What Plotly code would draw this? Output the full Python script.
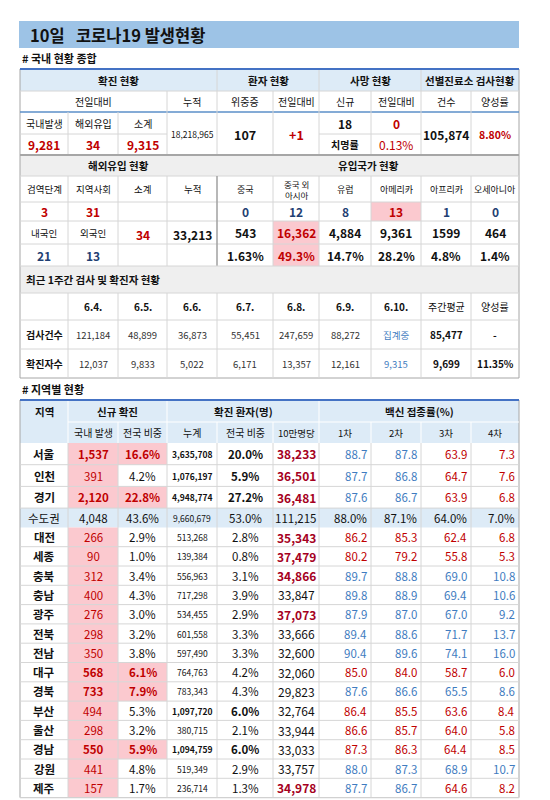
import plotly.graph_objects as go

# ---- data ----
top_head = ["확진 현황", "환자 현황", "사망 현황", "선별진료소 검사현황"]
top_sub = ["전일대비", "누적", "위중증", "전일대비", "신규", "전일대비", "건수", "양성률"]
conf_labels = ["국내발생", "해외유입", "소계"]
conf_values = ["9,281", "34", "9,315"]
cumulative = "18,218,965"
critical, critical_diff = "107", "+1"
deaths_new, deaths_diff, fatality = "18", "0", "0.13%"
test_count, test_pos = "105,874", "8.80%"

imp_labels = ["검역단계", "지역사회", "소계", "누적"]
country_labels = ["중국", "중국 외<br>아시아", "유럽", "아메리카", "아프리카", "오세아니아"]
imp_today = ["3", "31"]
imp_sub, imp_cum = "34", "33,213"
nat_labels = ["내국인", "외국인"]
nat_values = ["21", "13"]
country_today = ["0", "12", "8", "13", "1", "0"]
country_cum = ["543", "16,362", "4,884", "9,361", "1599", "464"]
country_pct = ["1.63%", "49.3%", "14.7%", "28.2%", "4.8%", "1.4%"]

week_days = ["6.4.", "6.5.", "6.6.", "6.7.", "6.8.", "6.9.", "6.10."]
week_tests = ["121,184", "48,899", "36,873", "55,451", "247,659", "88,272", "집계중"]
week_cases = ["12,037", "9,833", "5,022", "6,171", "13,357", "12,161", "9,315"]
week_avg = ["85,477", "9,699"]
week_rate = ["-", "11.35%"]

regions = ["서울", "인천", "경기", "수도권", "대전", "세종", "충북", "충남", "광주",
           "전북", "전남", "대구", "경북", "부산", "울산", "경남", "강원", "제주"]
new_cases = ["1,537", "391", "2,120", "4,048", "266", "90", "312", "400", "276",
             "298", "350", "568", "733", "494", "298", "550", "441", "157"]
new_share = ["16.6%", "4.2%", "22.8%", "43.6%", "2.9%", "1.0%", "3.4%", "4.3%", "3.0%",
             "3.2%", "3.8%", "6.1%", "7.9%", "5.3%", "3.2%", "5.9%", "4.8%", "1.7%"]
cum_cases = ["3,635,708", "1,076,197", "4,948,774", "9,660,679", "513,268", "139,384",
             "556,963", "717,298", "534,455", "601,558", "597,490", "764,763", "783,343",
             "1,097,720", "380,715", "1,094,759", "519,349", "236,714"]
cum_share = ["20.0%", "5.9%", "27.2%", "53.0%", "2.8%", "0.8%", "3.1%", "3.9%", "2.9%",
             "3.3%", "3.3%", "4.2%", "4.3%", "6.0%", "2.1%", "6.0%", "2.9%", "1.3%"]
per100k = ["38,233", "36,501", "36,481", "111,215", "35,343", "37,479", "34,866", "33,847",
           "37,073", "33,666", "32,600", "32,060", "29,823", "32,764", "33,944", "33,033",
           "33,757", "34,978"]
vac1 = ["88.7", "87.7", "87.6", "88.0%", "86.2", "80.2", "89.7", "89.8", "87.9", "89.4",
        "90.4", "85.0", "87.6", "86.4", "86.6", "87.3", "88.0", "87.7"]
vac2 = ["87.8", "86.8", "86.7", "87.1%", "85.3", "79.2", "88.8", "88.9", "87.0", "88.6",
        "89.6", "84.0", "86.6", "85.5", "85.7", "86.3", "87.3", "86.7"]
vac3 = ["63.9", "64.7", "63.9", "64.0%", "62.4", "55.8", "69.0", "69.4", "67.0", "71.7",
        "74.1", "58.7", "65.5", "63.6", "64.0", "64.4", "68.9", "64.6"]
vac4 = ["7.3", "7.6", "6.8", "7.0%", "6.8", "5.3", "10.8", "10.6", "9.2", "13.7",
        "16.0", "6.0", "8.6", "8.4", "5.8", "8.5", "10.7", "8.2"]

# ---- styles ----
RED, DRED, BLUE, NAVY, BLK = "#c00000", "#a50021", "#3f7cc0", "#1f3f73", "#111111"
PINK, LBLUE, GRAY, GRID = "#fbc9cf", "#ddebf7", "#efefef", "#d6d6d6"
FONT = "Noto Sans CJK KR"
hot = {"서울", "경기", "대구", "경북", "경남"}
big = {"서울", "인천", "경기", "부산", "경남"}
high100k = {"서울", "인천", "경기", "대전", "세종", "충북", "광주", "제주"}
vac_blue12 = {"서울", "인천", "경기", "충북", "충남", "광주", "전북", "전남", "경북", "강원", "제주"}
vac_blue34 = {"충북", "충남", "광주", "전북", "전남", "경북", "강원"}

X = [12, 60, 110, 159, 209, 265, 311, 363, 413, 463, 511]
shapes, ann = [], []


def rect(x0, y0, x1, y1, fill, line=None, w=0):
    shapes.append(dict(type="rect", x0=x0, x1=x1, y0=y0, y1=y1, fillcolor=fill,
                       line=dict(color=line or fill, width=w), layer="below"))


def line(x0, y0, x1, y1, color=GRID, w=1):
    shapes.append(dict(type="line", x0=x0, x1=x1, y0=y0, y1=y1, line=dict(color=color, width=w)))


def t(x, y, s, size=11, color=BLK, bold=False, align="center"):
    ann.append(dict(x=x, y=y, text=f"<b>{s}</b>" if bold else s, showarrow=False,
                    xanchor=align, yanchor="middle",
                    font=dict(size=size, color=color, family=FONT)))


def cx(i, j=None):
    return (X[i] + X[(j if j is not None else i + 1)]) / 2


# title
rect(11, 13, 511, 40, "#9dc3e6")
t(20, 26.5, "10일   코로나19 발생현황", 16.5, BLK, True, "left")
t(12, 50, "# 국내 현황 종합", 11, BLK, True, "left")

# top table
rect(12, 62, 511, 83, LBLUE)
for a, b, s in [(0, 4, top_head[0]), (4, 6, top_head[1]), (6, 8, top_head[2]), (8, 10, top_head[3])]:
    t(cx(a, b), 72.5, s, 10.5, BLK, True)
subs = [(0, 3), (3, 4), (4, 5), (5, 6), (6, 7), (7, 8), (8, 9), (9, 10)]
for (a, b), s in zip(subs, top_sub):
    t(cx(a, b), 93.5, s, 10)
for i in range(3):
    t(cx(i), 115, conf_labels[i], 10)
    t(cx(i), 136.5, conf_values[i], 12, RED, True)
t(cx(3), 126, cumulative, 8.5)
t(cx(4), 126, critical, 12.5, BLK, True)
t(cx(5), 126, critical_diff, 12.5, RED, True)
t(cx(6), 115, deaths_new, 12, BLK, True)
t(cx(7), 115, deaths_diff, 12, RED, True)
t(cx(6), 136.5, "치명률", 10, BLK, True)
t(cx(7), 136.5, fatality, 12, RED)
t(cx(8), 126, test_count, 12, BLK, True)
t(cx(9), 126, test_pos, 10.5, RED, True)
line(12, 83, 511, 83)
line(12, 126, 159, 126)
line(311, 126, 413, 126)
line(12, 104, 511, 104, "#5b8fc9", 1.5)
for i in [4, 6, 8]:
    line(X[i], 62, X[i], 147)
for i in [3, 5, 7, 9]:
    line(X[i], 83, X[i], 147)
for i in [1, 2]:
    line(X[i], 104, X[i], 147)

# import section
rect(12, 147, 511, 168, GRAY)
t(cx(0, 4), 157.5, "해외유입 현황", 10.5, BLK, True)
t(cx(4, 10), 157.5, "유입국가 현황", 10.5, BLK, True)
for i, s in enumerate(imp_labels):
    t(cx(i), 181, s, 9.5)
for i, s in enumerate(country_labels):
    t(cx(4 + i), 181, s, 8.5 if i == 1 else 9)
for i in range(2):
    t(cx(i), 203.5, imp_today[i], 12, RED, True)
    t(cx(i), 224.5, nat_labels[i], 9.5)
    t(cx(i), 247, nat_values[i], 12, NAVY, True)
t(cx(2), 226, imp_sub, 12, RED, True)
t(cx(3), 226, imp_cum, 12, BLK, True)
rect(X[7], 194, X[8], 213, PINK)
rect(X[5], 213, X[6], 258, PINK)
for i in range(6):
    t(cx(4 + i), 203.5, country_today[i], 12, RED if i == 3 else NAVY, True)
    t(cx(4 + i), 224.5, country_cum[i], 12, RED if i == 1 else BLK, True)
    t(cx(4 + i), 247, country_pct[i], 12, RED if i == 1 else BLK, True)
for y in [168, 194, 213, 236]:
    line(12, y, 511, y)
for i in range(1, 10):
    line(X[i], 168, X[i], 258, "#a0a0a0" if i == 4 else GRID, 1.5 if i == 4 else 1)
line(12, 147, 511, 147, "#a6a6a6", 2)

# weekly
rect(12, 258, 511, 285, GRAY)
t(16, 271.5, "최근 1주간 검사 및 확진자 현황", 10.5, BLK, True, "left")
for i, d in enumerate(week_days):
    t(cx(i + 1), 298.5, d, 10, BLK, True)
    t(cx(i + 1), 326.5, week_tests[i], 9.5, BLUE if i == 6 else "#333333")
    t(cx(i + 1), 355.5, week_cases[i], 9.5, BLUE if i == 6 else "#333333")
t(cx(8), 298.5, "주간평균", 10)
t(cx(9), 298.5, "양성률", 10)
t(cx(0), 326.5, "검사건수", 10, BLK, True)
t(cx(0), 355.5, "확진자수", 10, BLK, True)
for j in range(2):
    t(cx(8), 326.5 + 29 * j, week_avg[j], 10, BLK, True)
    t(cx(9), 326.5 + 29 * j, week_rate[j], 10, BLK, True)
for y in [258, 285, 312, 341]:
    line(12, y, 511, y)
for i in range(1, 10):
    line(X[i], 285, X[i], 370)
line(12, 61, 511, 61, "#4472c4", 2)
rect(12, 61, 511, 370, "rgba(0,0,0,0)", "#a6a6a6", 1)

# regional table
t(12, 381, "# 지역별 현황", 11, BLK, True, "left")
rect(12, 392, 511, 435, LBLUE)
t(cx(0), 403, "지역", 10.5, BLK, True)
t(cx(1, 3), 403, "신규 확진", 10.5, BLK, True)
t(cx(3, 6), 403, "확진 환자(명)", 10.5, BLK, True)
t(cx(6, 10), 403, "백신 접종률(%)", 10.5, BLK, True)
for i, s in enumerate(["국내 발생", "전국 비중", "누계", "전국 비중", "10만명당", "1차", "2차", "3차", "4차"]):
    t(cx(i + 1), 424.5, s, 10 if i < 4 else 9.5)
line(60, 414, 511, 414, "white")
for i in [1, 3, 6]:
    line(X[i], 392, X[i], 435, "white")
for i in [2, 4, 5, 7, 8, 9]:
    line(X[i], 414, X[i], 435, "white")

ys = []
y = 435
for k in range(len(regions)):
    h = 21.7 if k < 3 else 19.3
    ys.append((y, y + h))
    y += h
for k, r in enumerate(regions):
    y0, y1 = ys[k]
    ym = (y0 + y1) / 2
    if r == "수도권":
        rect(12, y0, 511, y1, LBLUE)
        vals = [new_cases[k], new_share[k], cum_cases[k], cum_share[k], per100k[k],
                vac1[k], vac2[k], vac3[k], vac4[k]]
        t(cx(0), ym, r, 11.5)
        for i, v in enumerate(vals):
            if i < 5:
                t(cx(i + 1), ym, v, 8.5 if i == 2 else 11.5)
            else:
                t(X[i + 2] - 2, ym, v, 11.5, BLK, False, "right")
        continue
    rect(X[1], y0, X[2], y1, PINK)
    if r in hot:
        rect(X[2], y0, X[3], y1, PINK)
    t(cx(0), ym, r, 11.5, BLK, True)
    t(cx(1), ym, new_cases[k], 11.5, RED, r in hot)
    t(cx(2), ym, new_share[k], 11.5, RED if r in hot else BLK, r in hot)
    t(cx(3), ym, cum_cases[k], 8.5, BLK, r in big)
    t(cx(4), ym, cum_share[k], 11.5, BLK, r in big)
    t(cx(5), ym, per100k[k], 12, DRED if r in high100k else BLK, r in high100k)
    c12 = BLUE if r in vac_blue12 else RED
    c34 = BLUE if r in vac_blue34 else RED
    for i, (v, c) in enumerate([(vac1[k], c12), (vac2[k], c12), (vac3[k], c34), (vac4[k], c34)]):
        t(X[i + 7] - 2, ym, v, 11.5, c, False, "right")
    line(12, y1, 511, y1)
for i in range(1, 10):
    line(X[i], 435, X[i], ys[-1][1])
line(12, 392, 511, 392, "#4472c4", 2)
rect(12, 392, 511, ys[-1][1], "rgba(0,0,0,0)", "#a6a6a6", 1)

fig = go.Figure()
fig.update_layout(
    width=550, height=800, margin=dict(l=0, r=0, t=0, b=0),
    plot_bgcolor="white", paper_bgcolor="white",
    xaxis=dict(range=[0, 550], visible=False, fixedrange=True),
    yaxis=dict(range=[800, 0], visible=False, fixedrange=True),
    shapes=shapes, annotations=ann, showlegend=False,
)
fig.write_html("out.html")
